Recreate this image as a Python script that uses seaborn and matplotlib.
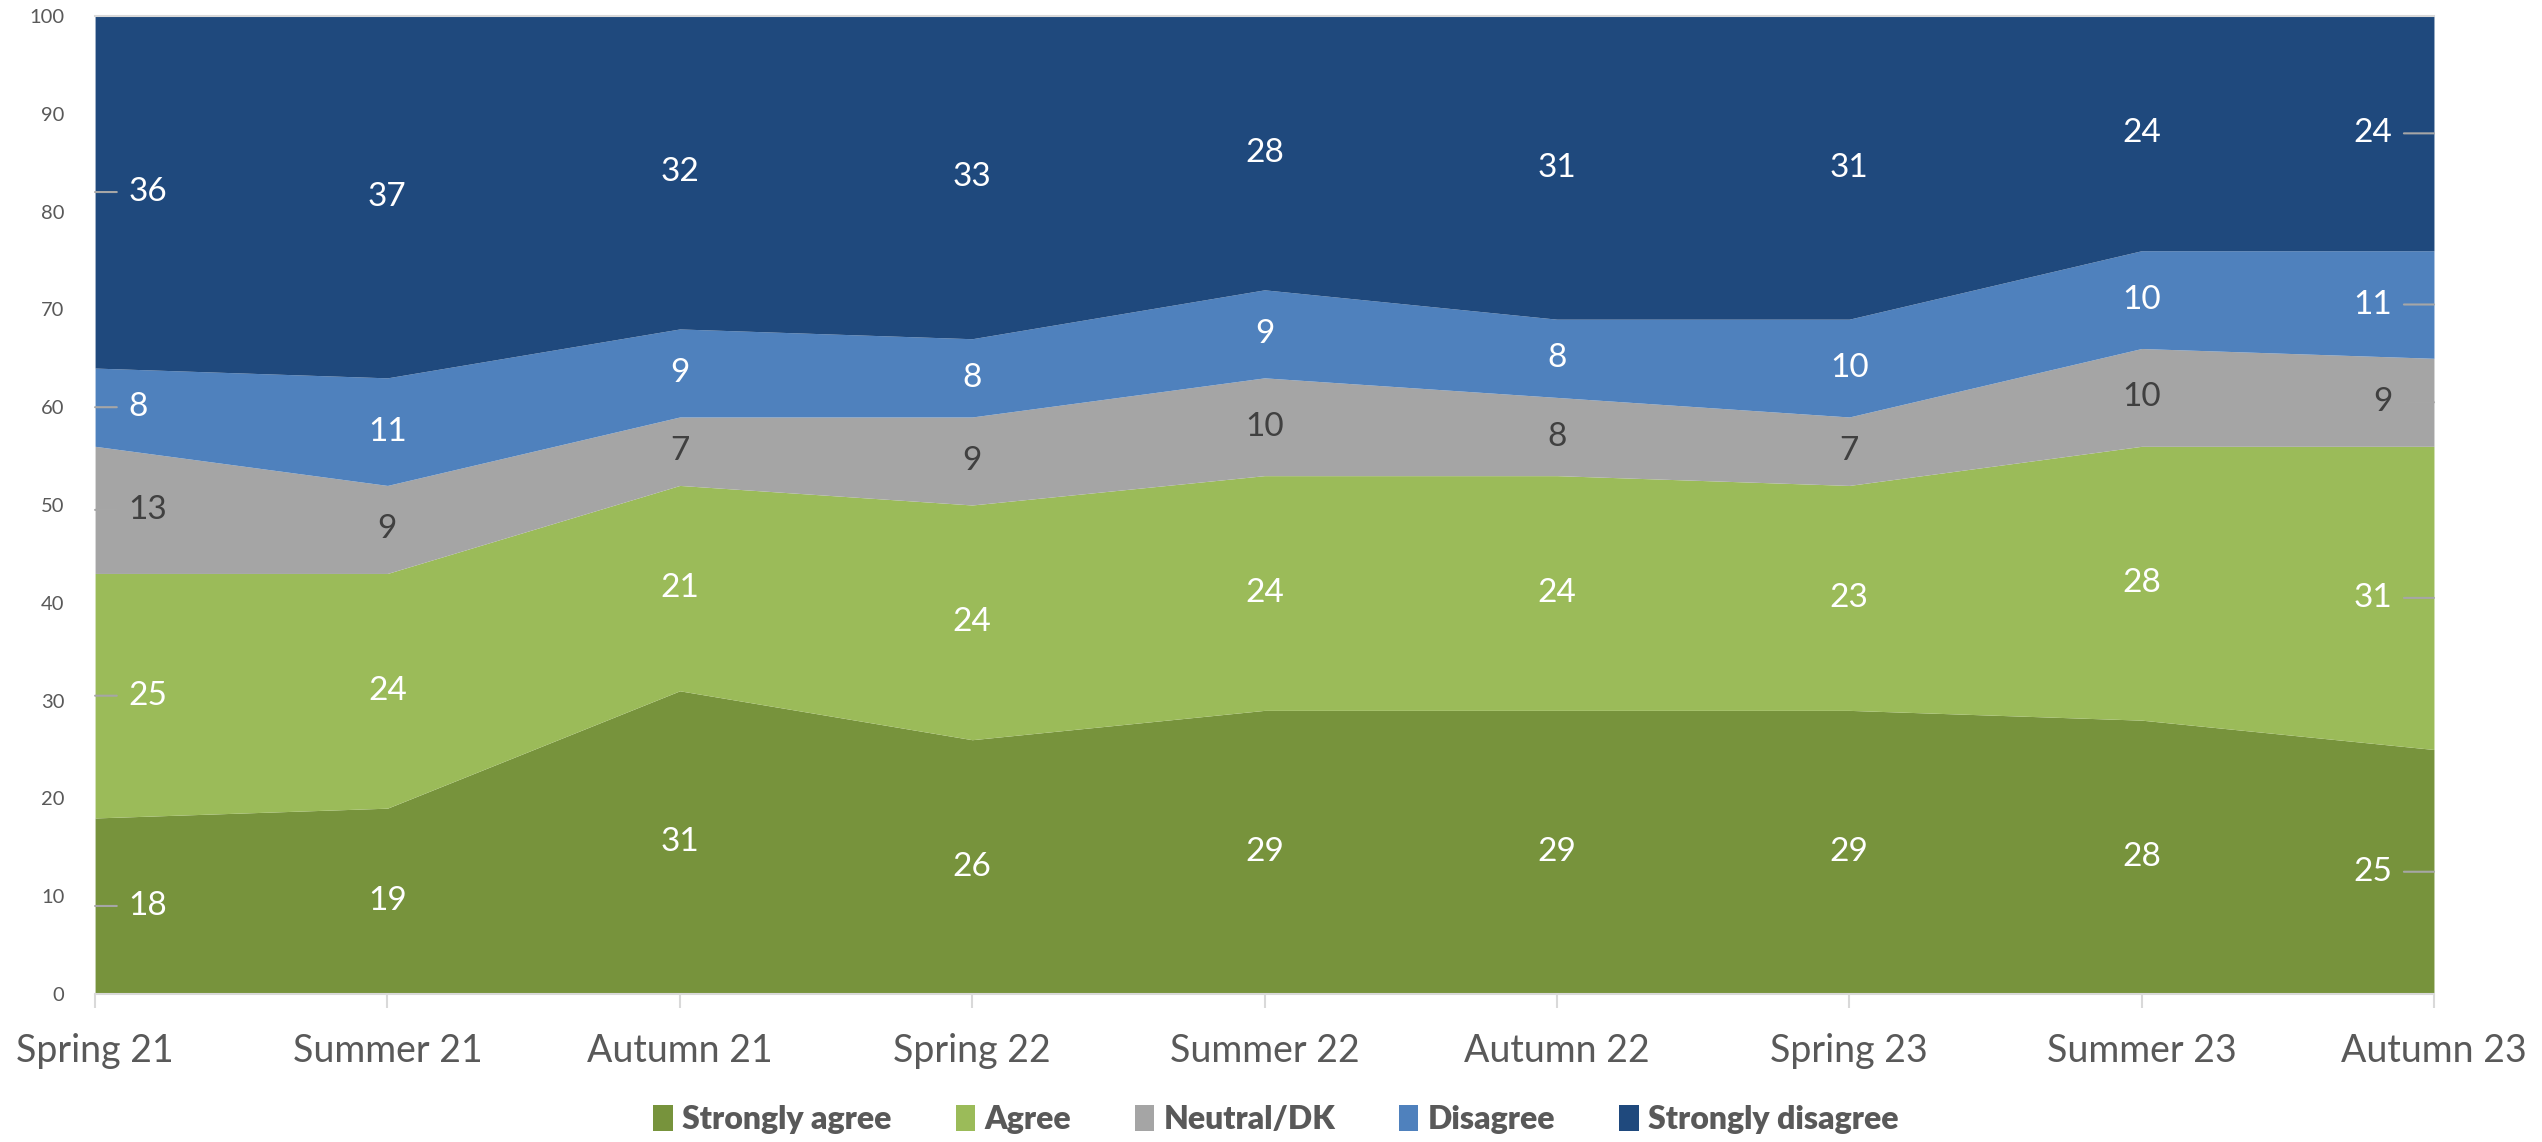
import matplotlib

matplotlib.use("Agg")
import matplotlib.pyplot as plt
import numpy as np
import seaborn as sns
from matplotlib.patches import Patch

WAVES = ["Spring 21", "Summer 21", "Autumn 21", "Spring 22", "Summer 22",
         "Autumn 22", "Spring 23", "Summer 23", "Autumn 23"]

STRONGLY_AGREE = [18, 19, 31, 26, 29, 29, 29, 28, 25]
AGREE = [25, 24, 21, 24, 24, 24, 23, 28, 31]
NEUTRAL = [13, 9, 7, 9, 10, 8, 7, 10, 9]
DISAGREE = [8, 11, 9, 8, 9, 8, 10, 10, 11]
STRONGLY_DISAGREE = [36, 37, 32, 33, 28, 31, 31, 24, 24]

SERIES = ["Strongly agree", "Agree", "Neutral/DK", "Disagree", "Strongly disagree"]
COLORS = ["#77933C", "#9BBB59", "#A5A5A5", "#4F81BD", "#1F497D"]
LABEL_COLORS = ["white", "white", "#404040", "white", "white"]

sns.set_theme(style="white")
plt.rcParams["font.family"] = ["Lato", "DejaVu Sans"]

values = np.array([STRONGLY_AGREE, AGREE, NEUTRAL, DISAGREE, STRONGLY_DISAGREE])
x = np.arange(len(WAVES))

fig = plt.figure(figsize=(25.42, 11.42), dpi=100)
ax = fig.add_axes([0.0374, 0.1296, 0.9201, 0.8564])

ax.stackplot(x, values, colors=COLORS, linewidth=0)

ax.set_xlim(0, len(WAVES) - 1)
ax.set_ylim(0, 100)
ax.set_yticks(range(0, 101, 10))
ax.set_xticks(x)
ax.set_xticklabels(WAVES)
ax.tick_params(axis="y", length=0, labelsize=14.5, labelcolor="#595959", pad=22)
ax.tick_params(axis="x", length=10, width=1.5, color="#D9D9D9", direction="out",
               labelsize=27, labelcolor="#595959", pad=18, bottom=True)
for side in ["left", "right"]:
    ax.spines[side].set_visible(False)
ax.spines["bottom"].set_color("#D9D9D9")
ax.spines["bottom"].set_linewidth(1.5)
ax.spines["top"].set_color("#D9D9D9")
ax.spines["top"].set_linewidth(1.5)
ax.grid(False)

# data labels at the middle of each band, edge ones pushed inward with a leader
bottoms = np.cumsum(values, axis=0) - values
last = len(WAVES) - 1
for s, row in enumerate(values):
    for i, v in enumerate(row):
        y = bottoms[s, i] + v / 2
        kw = dict(color=LABEL_COLORS[s], fontsize=24, va="center")
        if i in (0, last):
            left = i == 0
            ax.annotate(str(v), xy=(i, y), xytext=(24 if left else -30, 0),
                        textcoords="offset points", ha="left" if left else "right",
                        annotation_clip=False,
                        arrowprops=dict(arrowstyle="-", color="#A6A6A6", lw=1.5,
                                        relpos=(0, 0.5) if left else (1, 0.5),
                                        shrinkA=6, shrinkB=0), **kw)
        else:
            ax.text(i, y, str(v), ha="center", **kw)

handles = [Patch(facecolor=c, edgecolor="none") for c in COLORS]
fig.legend(handles, SERIES, loc="center", bbox_to_anchor=(0.502, 0.02), ncol=5,
           frameon=False, handlelength=0.6, handleheight=0.9, handletextpad=0.3,
           columnspacing=2.0,
           prop=dict(size=23, weight="heavy"), labelcolor="#595959")

fig.savefig("out.png", dpi=100)
